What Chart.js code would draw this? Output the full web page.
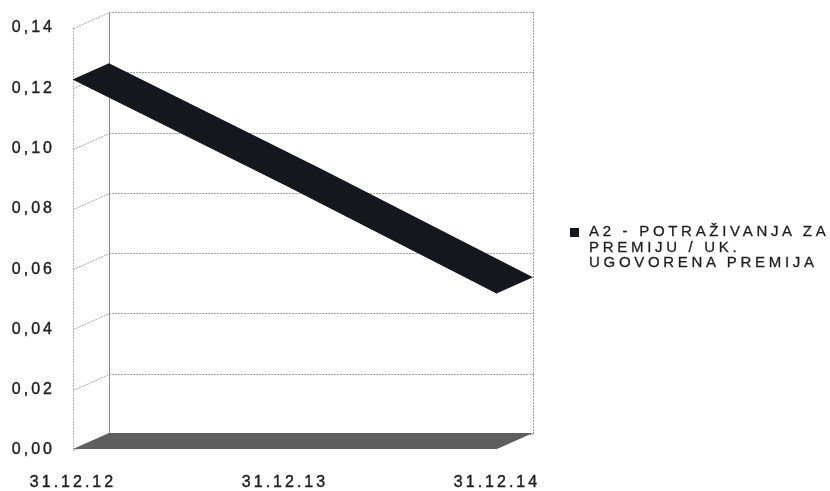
<!DOCTYPE html>
<html>
<head>
<meta charset="utf-8">
<script src="https://cdn.jsdelivr.net/npm/chart.js@4/dist/chart.umd.min.js"></script>
<style>
  html, body { margin: 0; padding: 0; background: #ffffff; }
  #wrap { position: relative; width: 830px; height: 491px; }
  #legend {
    position: absolute; left: 570px; top: 223px;
    font-family: "Liberation Sans", Arial, sans-serif;
    font-size: 15px; line-height: 15.5px; letter-spacing: 3.7px;
    color: #1e1e1e; white-space: nowrap;
    -webkit-text-stroke: 0.3px #1e1e1e;
  }
  #legend .box { position: absolute; left: 0; top: 5px; width: 9px; height: 9px; }
  #legend .text { margin-left: 19px; }
</style>
</head>
<body>
<div id="wrap">
  <canvas id="chart" width="830" height="491"></canvas>
  <div id="legend"></div>
</div>
<script>
// Reporting dates and the premium receivables ratio
const categories = ['31.12.12', '31.12.13', '31.12.14'];
const seriesLabelLines = ['A2 - POTRAŽIVANJA ZA', 'PREMIJU / UK.', 'UGOVORENA PREMIJA'];
const ratioValues = [0.123, 0.088, 0.052];
const yTickValues = [0, 0.02, 0.04, 0.06, 0.08, 0.10, 0.12, 0.14];

const RIBBON_COLOR = '#15171f';
const FLOOR_COLOR = '#5e5e5e';
const DEPTH_X = 36;   // horizontal shift of the back wall
const DEPTH_Y = -16;  // vertical shift of the back wall
const TEXT_SPACING = '3px';

// Draws the walls, floor and the line ribbon in a pseudo-3D box
const depthBox = {
  id: 'depthBox',
  beforeUpdate(chart) { chart.ctx.letterSpacing = TEXT_SPACING; },
  beforeDraw(chart) { chart.ctx.letterSpacing = TEXT_SPACING; },
  beforeDatasetsDraw(chart) {
    const { ctx, chartArea, scales } = chart;
    const { left, right, top, bottom } = chartArea;
    const y = scales.y;
    const seg = (x1, y1, x2, y2) => {
      ctx.beginPath(); ctx.moveTo(x1, y1); ctx.lineTo(x2, y2); ctx.stroke();
    };
    const poly = (pts) => {
      ctx.beginPath();
      ctx.moveTo(pts[0][0], pts[0][1]);
      for (let i = 1; i < pts.length; i++) ctx.lineTo(pts[i][0], pts[i][1]);
      ctx.closePath();
      ctx.fill();
    };

    ctx.save();
    ctx.lineWidth = 1;

    // grid lines: across the side wall, then along the back wall
    ctx.strokeStyle = '#a0a0a0';
    ctx.setLineDash([2, 1]);
    y.ticks.forEach(t => {
      const py = Math.round(y.getPixelForValue(t.value)) + 0.5;
      ctx.beginPath();
      ctx.moveTo(left + 0.5, py);
      ctx.lineTo(left + DEPTH_X + 0.5, py + DEPTH_Y);
      ctx.lineTo(right + DEPTH_X + 0.5, py + DEPTH_Y);
      ctx.stroke();
    });

    // front edge of the side wall and right edge of the back wall
    ctx.strokeStyle = '#b4b4b4';
    seg(left + 0.5, top, left + 0.5, bottom);
    ctx.strokeStyle = '#a0a0a0';
    seg(right + DEPTH_X + 0.5, top + DEPTH_Y, right + DEPTH_X + 0.5, bottom + DEPTH_Y);

    // corner where side wall meets back wall
    ctx.setLineDash([]);
    ctx.strokeStyle = '#8a8a8a';
    seg(left + DEPTH_X + 0.5, top + DEPTH_Y, left + DEPTH_X + 0.5, bottom + DEPTH_Y);

    // floor
    ctx.fillStyle = FLOOR_COLOR;
    poly([
      [left, bottom - 1],
      [left + DEPTH_X, bottom + DEPTH_Y - 1],
      [right + DEPTH_X, bottom + DEPTH_Y - 1],
      [right, bottom - 1]
    ]);

    // ribbon following the data line into depth, as one closed shape
    const pts = chart.getDatasetMeta(0).data;
    const outline = pts.map(p => [p.x, p.y]);
    for (let i = pts.length - 1; i >= 0; i--) {
      outline.push([pts[i].x + DEPTH_X, pts[i].y + DEPTH_Y]);
    }
    ctx.fillStyle = RIBBON_COLOR;
    poly(outline);
    ctx.restore();
  }
};

const tickFont = { family: '"Liberation Sans", Arial, sans-serif', size: 16 };

const chart = new Chart(document.getElementById('chart'), {
  type: 'line',
  data: {
    labels: categories,
    datasets: [{
      label: seriesLabelLines.join(' '),
      data: ratioValues,
      borderColor: RIBBON_COLOR,
      backgroundColor: RIBBON_COLOR,
      borderWidth: 1,
      pointRadius: 0,
      tension: 0,
      fill: false
    }]
  },
  options: {
    responsive: false,
    animation: false,
    devicePixelRatio: 1,
    layout: { padding: { left: 0, top: 28, right: 333, bottom: 0 } },
    plugins: { legend: { display: false }, tooltip: { enabled: false } },
    scales: {
      x: {
        type: 'category',
        offset: false,
        grid: { display: false, drawTicks: false },
        border: { display: false },
        ticks: {
          color: '#1e1e1e', font: tickFont, padding: 23, maxRotation: 0, autoSkip: false,
          textStrokeColor: '#1e1e1e', textStrokeWidth: 0.4
        },
        afterFit(scale) { scale.height = 41; }
      },
      y: {
        min: 0,
        max: 0.14,
        grid: { display: false, drawTicks: false },
        border: { display: false },
        ticks: {
          color: '#1e1e1e',
          font: tickFont,
          padding: 18,
          textStrokeColor: '#1e1e1e',
          textStrokeWidth: 0.4,
          callback: v => Number(v).toFixed(2).replace('.', ',')
        },
        afterBuildTicks(scale) { scale.ticks = yTickValues.map(v => ({ value: v })); },
        afterFit(scale) { scale.width = 73; }
      }
    }
  },
  plugins: [depthBox]
});

// Legend: colour box and wrapped series name
const legend = document.getElementById('legend');
const ds = chart.data.datasets[0];
const box = document.createElement('div');
box.className = 'box';
box.style.background = ds.borderColor;
legend.appendChild(box);
const text = document.createElement('div');
text.className = 'text';
seriesLabelLines.forEach((line, i) => {
  if (i) text.appendChild(document.createElement('br'));
  text.appendChild(document.createTextNode(line));
});
legend.appendChild(text);
</script>
</body>
</html>
